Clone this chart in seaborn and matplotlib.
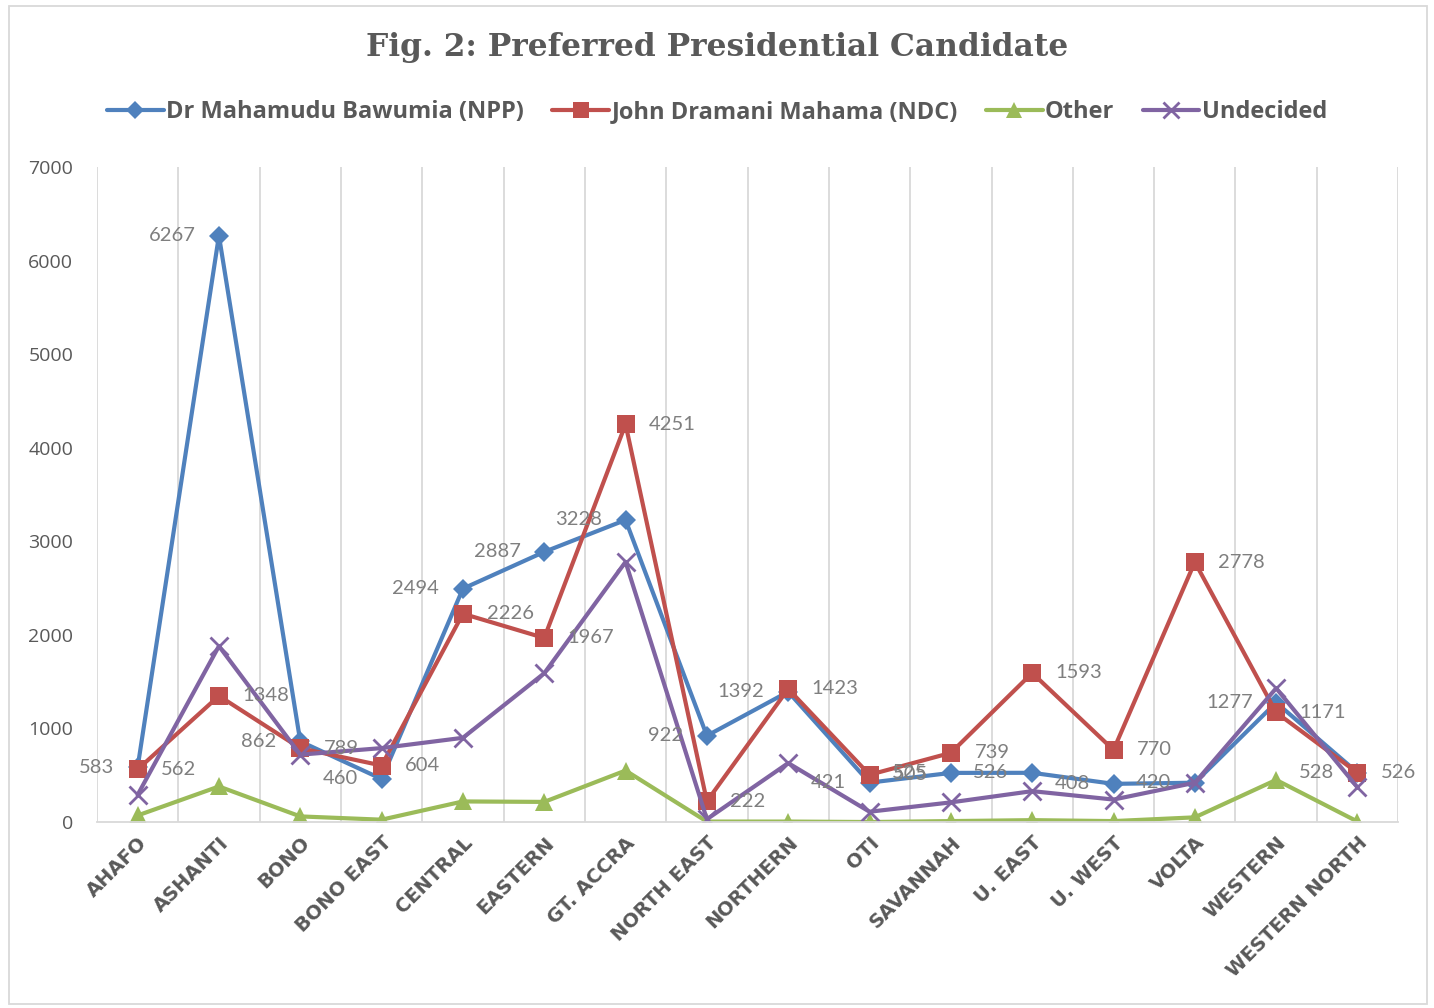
import matplotlib
matplotlib.use("Agg")
import matplotlib.pyplot as plt
import matplotlib.patches as patches
from matplotlib.lines import Line2D
import numpy as np
import pandas as pd
import seaborn as sns

regions = ["AHAFO", "ASHANTI", "BONO", "BONO EAST", "CENTRAL", "EASTERN", "GT. ACCRA",
           "NORTH EAST", "NORTHERN", "OTI", "SAVANNAH", "U. EAST", "U. WEST", "VOLTA",
           "WESTERN", "WESTERN NORTH"]
npp = [583, 6267, 862, 460, 2494, 2887, 3228, 922, 1392, 421, 525, 526, 408, 420, 1277, 528]
ndc = [562, 1348, 789, 604, 2226, 1967, 4251, 222, 1423, 505, 739, 1593, 770, 2778, 1171, 526]
other = [70, 380, 60, 25, 220, 215, 550, 5, 5, 0, 10, 20, 10, 50, 450, 5]
undecided = [290, 1880, 720, 790, 900, 1590, 2780, 30, 630, 110, 210, 330, 240, 420, 1430, 370]

series_names = ["Dr Mahamudu Bawumia (NPP)", "John Dramani Mahama (NDC)", "Other", "Undecided"]
series_vals = [npp, ndc, other, undecided]
colors = ["#4F81BD", "#C0504D", "#9BBB59", "#8064A2"]
markers = ["D", "s", "^", "x"]
msizes = [10, 13, 13, 13]

sns.set_style("white")
plt.rcParams["font.family"] = ["Open Sans", "DejaVu Sans"]

fig = plt.figure(figsize=(14.34, 10.08), dpi=100)
ax = fig.add_axes([0.0676, 0.1845, 0.9074, 0.6498])

xpos = np.arange(len(regions))
for name, vals, c, m, ms in zip(series_names, series_vals, colors, markers, msizes):
    df = pd.DataFrame({"x": xpos, "y": vals})
    sns.lineplot(data=df, x="x", y="y", ax=ax, color=c, linewidth=3,
                 marker=m, markersize=ms, markeredgewidth=2 if m == "x" else 0,
                 markeredgecolor=c, label=name, legend=False)

# data labels: NPP to the left, NDC to the right
for i, v in enumerate(npp):
    ax.annotate(str(v), (xpos[i], v), xytext=(-17, 0), textcoords="offset points",
                ha="right", va="center", fontsize=14.5, color="#7F7F7F", family="Lato")
for i, v in enumerate(ndc):
    ax.annotate(str(v), (xpos[i], v), xytext=(17, 0), textcoords="offset points",
                ha="left", va="center", fontsize=14.5, color="#7F7F7F", family="Lato")

ax.set_xlim(-0.5, len(regions) - 0.5)
ax.set_ylim(0, 7000)
ax.set_yticks(range(0, 7001, 1000))
ax.set_xticks(xpos)
ax.set_xticks(np.arange(-0.5, len(regions), 1), minor=True)
ax.set_xticklabels(regions, rotation=45, ha="right", rotation_mode="anchor",
                   fontsize=14, fontweight="bold", color="#595959", family="DejaVu Sans")
ax.tick_params(axis="y", labelsize=14, labelcolor="#595959", length=0, pad=17)
ax.tick_params(axis="x", which="both", length=0, pad=8)
ax.grid(False)
ax.grid(True, which="minor", axis="x", color="#D9D9D9", linewidth=1.3)
for s in ["top", "left", "right"]:
    ax.spines[s].set_visible(False)
ax.spines["bottom"].set_color("#D9D9D9")
ax.spines["bottom"].set_linewidth(1.3)
ax.set_xlabel("")
ax.set_ylabel("")

handles = [Line2D([0], [0], color=c, linewidth=3, marker=m, markersize=ms * 0.9,
                  markeredgewidth=2 if m == "x" else 0, markeredgecolor=c)
           for c, m, ms in zip(colors, markers, msizes)]
fig.legend(handles, series_names, loc="center", bbox_to_anchor=(0.5, 0.889), ncol=4,
           frameon=False, handlelength=2.4, handletextpad=0.1, columnspacing=1.2,
           prop={"family": "Open Sans", "weight": "bold", "size": 17},
           labelcolor="#595959")

fig.text(0.5, 0.953, "Fig. 2: Preferred Presidential Candidate", ha="center", va="center",
         fontsize=22.5, fontweight="bold", color="#595959", family="DejaVu Serif")

fig.patches.append(patches.Rectangle((0.006, 0.004), 0.989, 0.99, transform=fig.transFigure,
                                     fill=False, edgecolor="#D9D9D9", linewidth=1.3))

fig.savefig("out.png", dpi=100)
